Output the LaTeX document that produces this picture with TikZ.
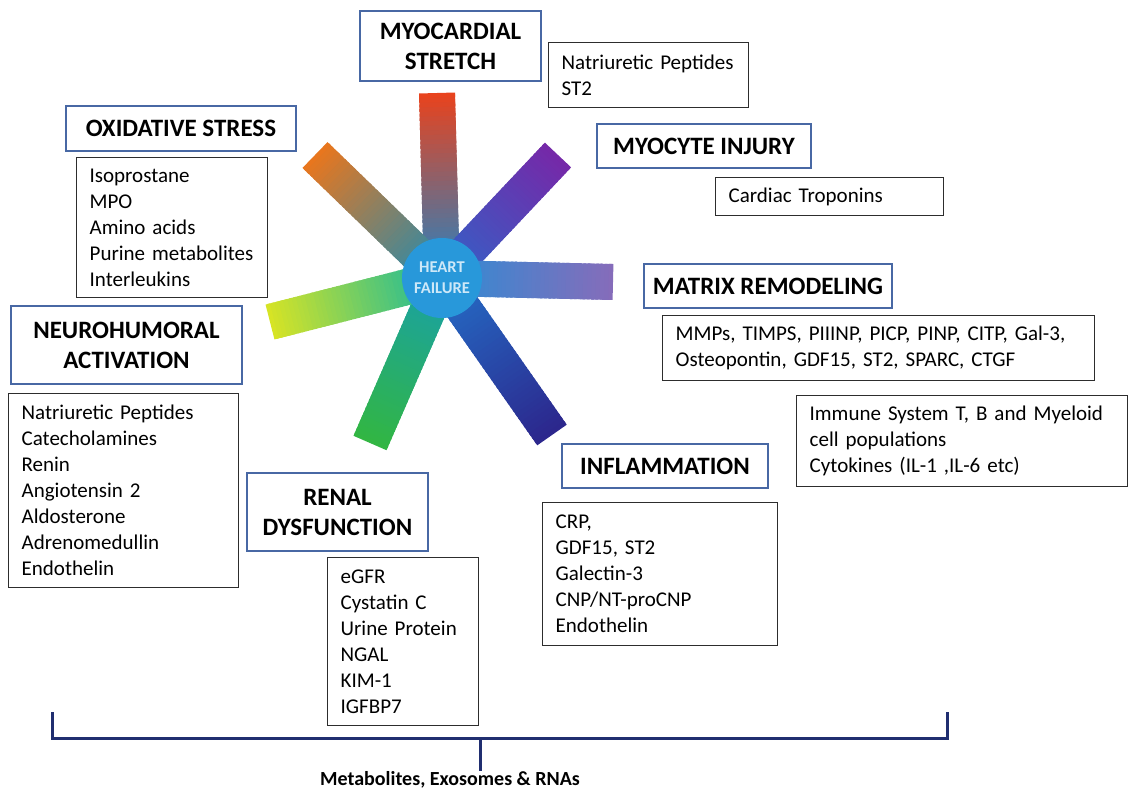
\documentclass[tikz,border=0pt]{standalone}
\usepackage{fontspec}
\setmainfont{Carlito}
\usetikzlibrary{calc}
\definecolor{hfc}{RGB}{40,152,218}
\definecolor{tbd}{RGB}{72,104,164}
\definecolor{lbd}{RGB}{45,45,45}
\definecolor{brk}{RGB}{32,46,112}
\definecolor{hftext}{RGB}{205,232,248}
\definecolor{armA}{RGB}{234,66,28}
\definecolor{armB}{RGB}{118,40,168}
\definecolor{armC}{RGB}{134,108,186}
\definecolor{armD}{RGB}{44,38,140}
\definecolor{armE}{RGB}{50,182,66}
\definecolor{armF}{RGB}{216,228,36}
\definecolor{armG}{RGB}{234,118,28}
\definecolor{inA}{RGB}{36,132,196}
\definecolor{inB}{RGB}{48,100,200}
\definecolor{inC}{RGB}{46,140,212}
\definecolor{inD}{RGB}{36,112,200}
\definecolor{inE}{RGB}{24,160,170}
\definecolor{inF}{RGB}{20,184,160}
\definecolor{inG}{RGB}{30,140,180}
\newcommand\hfarm[3]{%
  \foreach \i in {0,...,39}{%
    \pgfmathsetmacro\ta{\i/40}%
    \pgfmathsetmacro\tb{min(1,(\i+1.6)/40)}%
    \pgfmathtruncatemacro\p{round(100*(\i+0.5)/40)}%
    \draw[line width=36pt, color=#2!\p!#3] ($(hc)!\ta!(#1)$) -- ($(hc)!\tb!(#1)$);%
  }}
\begin{document}
\begin{tikzpicture}[x=1pt,y=-1pt,
  titlebox/.style={draw=tbd, line width=2pt, fill=white, font=\fontsize{25}{30}\selectfont\bfseries, align=center, inner sep=0pt, anchor=north west},
  listbox/.style={draw=lbd, line width=1.3pt, fill=white, font=\fontsize{21}{26}\selectfont, align=left, inner xsep=13pt, inner ysep=0pt, anchor=north west},
  bracket/.style={draw=brk, line width=3pt}]
\useasboundingbox (0,0) rectangle (1130,792);
% star
\coordinate (hc) at (442,278);
\coordinate (eA) at (437,93);
\coordinate (eB) at (558,155);
\coordinate (eC) at (613,282);
\coordinate (eD) at (552,435);
\coordinate (eE) at (370,443);
\coordinate (eF) at (270,322);
\coordinate (eG) at (315,155);
\hfarm{eA}{armA}{inA}
\hfarm{eB}{armB}{inB}
\hfarm{eC}{armC}{inC}
\hfarm{eD}{armD}{inD}
\hfarm{eE}{armE}{inE}
\hfarm{eF}{armF}{inF}
\hfarm{eG}{armG}{inG}
\node[circle, fill=hfc, minimum size=80pt, inner sep=0pt, text=hftext, font=\fontsize{16.5}{21}\selectfont\bfseries, align=center] (hf) at (hc) {HEART\\FAILURE};
% title boxes
\node[titlebox, minimum width=181pt, minimum height=70pt] (ms) at (359,10) {MYOCARDIAL\\STRETCH};
\node[titlebox, minimum width=230pt, minimum height=45pt] (os) at (65,105) {OXIDATIVE STRESS};
\node[titlebox, minimum width=214pt, minimum height=44pt] (mi) at (596,123) {MYOCYTE INJURY};
\node[titlebox, minimum width=248pt, minimum height=44pt] (mr) at (643,263) {MATRIX REMODELING};
\node[titlebox, minimum width=231pt, minimum height=78pt] (na) at (10,305) {NEUROHUMORAL\\ACTIVATION};
\node[titlebox, minimum width=206pt, minimum height=44pt] (in) at (561,443) {INFLAMMATION};
\node[titlebox, minimum width=181pt, minimum height=78pt] (rd) at (246,472) {RENAL\\DYSFUNCTION};
% list boxes
\node[listbox, minimum width=200pt, minimum height=65pt, text width=174pt] (msl) at (548,42) {Natriuretic Peptides\\ST2};
\node[listbox, minimum width=191pt, minimum height=140pt, text width=165pt] (osl) at (76,157) {Isoprostane\\MPO\\Amino acids\\Purine metabolites\\Interleukins};
\node[listbox, minimum width=228pt, minimum height=38pt, text width=202pt] (mil) at (715,177) {Cardiac Troponins};
\node[listbox, minimum width=432pt, minimum height=65pt, text width=406pt] (mrl) at (662,315) {MMPs, TIMPS, PIIINP, PICP, PINP, CITP, Gal-3,\\Osteopontin, GDF15, ST2, SPARC, CTGF};
\node[listbox, minimum width=331pt, minimum height=91pt, text width=305pt] (iml) at (796,395) {Immune System T, B and Myeloid\\cell populations\\Cytokines (IL-1 ,IL-6 etc)};
\node[listbox, minimum width=230pt, minimum height=194pt, text width=204pt] (nal) at (8,393) {Natriuretic Peptides\\Catecholamines\\Renin\\Angiotensin 2\\Aldosterone\\Adrenomedullin\\Endothelin};
\node[listbox, minimum width=235pt, minimum height=143pt, text width=209pt] (inl) at (542,502) {CRP,\\GDF15, ST2\\Galectin-3\\CNP/NT-proCNP\\Endothelin};
\node[listbox, minimum width=151pt, minimum height=168pt, text width=125pt] (rdl) at (327,557) {eGFR\\Cystatin C\\Urine Protein\\NGAL\\KIM-1\\IGFBP7};
% bracket
\coordinate (bl) at (52,712);
\coordinate (br) at (947,712);
\coordinate (bm) at (480,738);
\node[font=\fontsize{20}{24}\selectfont\bfseries, inner sep=0pt] (met) at (450,780) {Metabolites, Exosomes \& RNAs};
\draw[bracket] (bl) |- (bm) -| (br);
\draw[bracket] (bm) -- (bm |- met.north);
\end{tikzpicture}
\end{document}
